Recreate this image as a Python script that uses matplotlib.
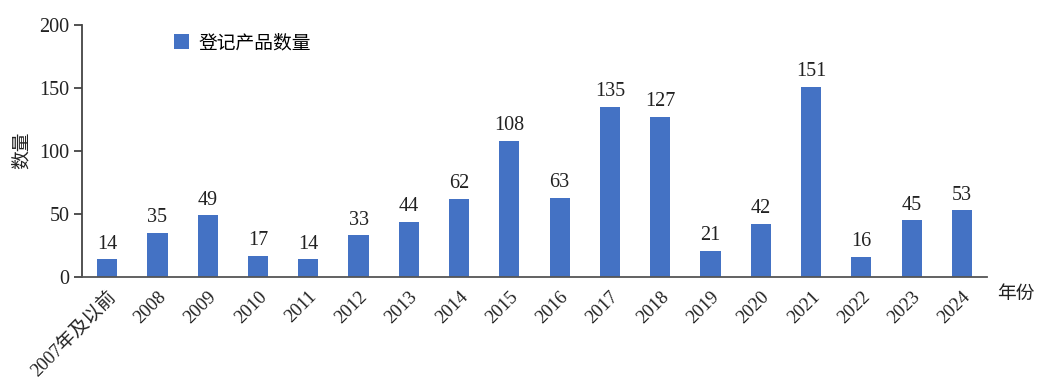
import matplotlib
matplotlib.use("Agg")
import matplotlib.pyplot as plt

plt.rcParams['font.family'] = ['Liberation Serif', 'Noto Sans CJK SC']

years = ['2007年及以前', '2008', '2009', '2010', '2011', '2012', '2013', '2014', '2015',
         '2016', '2017', '2018', '2019', '2020', '2021', '2022', '2023', '2024']
counts = [14, 35, 49, 17, 14, 33, 44, 62, 108, 63, 135, 127, 21, 42, 151, 16, 45, 53]

fig = plt.figure(figsize=(10.45, 3.85), dpi=100)
ax = fig.add_axes([0.0785, 0.2805, 0.866, 0.6545])

x = range(len(years))
bars = ax.bar(x, counts, width=0.4, color='#4472C4', label='登记产品数量')

# value labels on top of bars
for xi, v in zip(x, counts):
    ax.text(xi, v + 4.5, str(v), ha='center', va='bottom', fontsize=14.5, color='#222222')

ax.set_xlim(-0.5, len(years) - 0.5)
ax.set_ylim(0, 200)
ax.set_yticks([0, 50, 100, 150, 200])
ax.set_xticks(list(x))
ax.set_xticklabels(years, rotation=45, ha='right', rotation_mode='anchor', fontsize=13.5, color='#222222')
ax.tick_params(axis='x', length=0, pad=8)
ax.tick_params(axis='y', length=6, width=1.3, color='#444444', labelsize=14.5, labelcolor='#222222', pad=3)

for s in ['top', 'right']:
    ax.spines[s].set_visible(False)
ax.spines['left'].set_color('#444444')
ax.spines['bottom'].set_color('#555555')
ax.spines['left'].set_linewidth(1.3)
ax.spines['bottom'].set_linewidth(1.3)

fig.text(0.021, 0.61, '数量', rotation=90, ha='center', va='center', fontsize=13.5, color='#222222')
fig.text(0.972, 0.235, '年份', ha='center', va='center', fontsize=13.5, color='#222222')

ax.legend(loc='upper left', bbox_to_anchor=(0.083, 1.03), frameon=False, fontsize=13.5,
          handlelength=0.8, handleheight=0.8, handletextpad=0.5)

fig.savefig('out.png', dpi=100)
